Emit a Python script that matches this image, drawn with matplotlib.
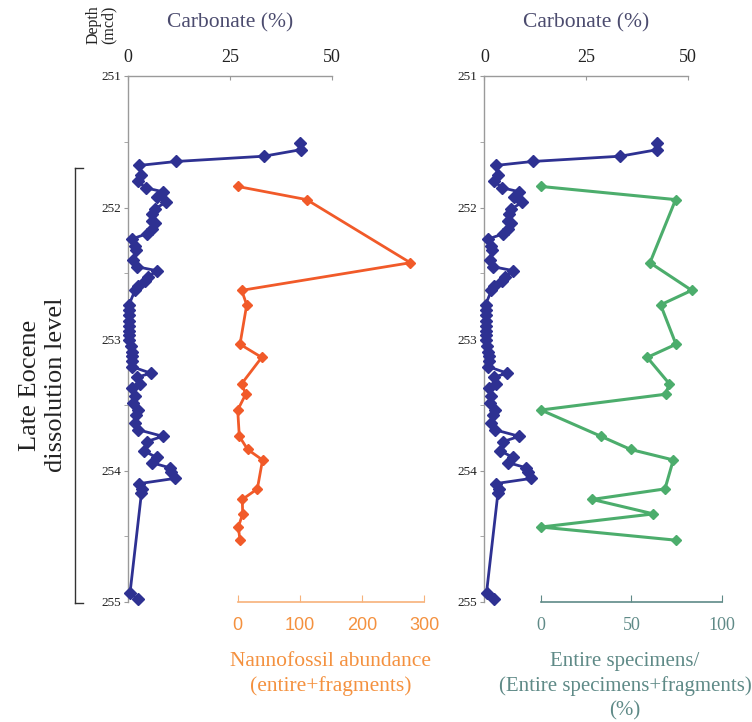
import matplotlib
matplotlib.use("Agg")
import matplotlib.pyplot as plt
from matplotlib.ticker import MultipleLocator

plt.rcParams['font.family'] = ['Liberation Serif', 'DejaVu Serif']

# ---- data ----
carb_depth = [251.51, 251.56, 251.61, 251.65, 251.68, 251.75, 251.80, 251.85, 251.88, 251.92,
              251.96, 252.01, 252.05, 252.10, 252.12, 252.16, 252.20, 252.24, 252.29, 252.32,
              252.40, 252.45, 252.48, 252.53, 252.56, 252.60, 252.63, 252.74, 252.78, 252.82,
              252.86, 252.90, 252.94, 252.97, 253.01, 253.05, 253.10, 253.13, 253.17, 253.21,
              253.26, 253.29, 253.34, 253.37, 253.43, 253.49, 253.54, 253.58, 253.64, 253.69,
              253.74, 253.78, 253.85, 253.90, 253.94, 253.98, 254.01, 254.06, 254.10, 254.14,
              254.17, 254.93, 254.98]
carb_vals = [42.2, 42.4, 33.3, 11.8, 2.8, 3.2, 2.4, 4.3, 8.5, 7.2,
             9.3, 6.6, 6.0, 5.8, 6.6, 5.8, 4.6, 0.9, 1.7, 1.9,
             1.3, 2.1, 7.0, 5.0, 4.2, 2.4, 1.7, 0.25, 0.25, 0.3,
             0.3, 0.25, 0.3, 0.25, 0.3, 0.65, 0.9, 1.05, 1.1, 0.9,
             5.6, 2.3, 2.9, 1.05, 1.7, 1.3, 2.5, 2.0, 1.7, 2.5,
             8.5, 4.6, 3.8, 7.0, 5.8, 10.3, 10.6, 11.5, 2.7, 3.5,
             3.3, 0.5, 2.4]

sample_depth = [251.84, 251.94, 252.42, 252.63, 252.74, 253.04, 253.14, 253.34, 253.42,
                253.54, 253.74, 253.84, 253.92, 254.14, 254.22, 254.33, 254.43, 254.53]
nanno_vals = [0, 111, 278, 6.4, 14.5, 3.7, 38.7, 6.4, 12.9,
              0, 2.6, 16, 40, 31.6, 7.4, 8, 1, 3.7]
entire_pct = [0, 74.5, 60.3, 83.4, 66.2, 74.7, 58.8, 71, 69,
              0, 33.2, 49.6, 73.2, 68.6, 28.4, 62.2, 0, 74.7]

carb_ticks = [0, 25, 50]
depth_ticks = [251, 252, 253, 254, 255]
nanno_ticks = [0, 100, 200, 300]
pct_ticks = [0, 50, 100]

BLUE = '#2e3192'
ORANGE = '#f15a29'
ORANGE_TXT = '#f4913f'
ORANGE_AX = '#f7b27a'
GREEN = '#4cad6c'
GREEN_AX = '#5f8a87'
TITLE_C = '#4b4b6e'
GRAY = '#9a9a9a'

W, H = 752, 722
fig = plt.figure(figsize=(W / 100, H / 100), dpi=100)

y0 = (H - 602) / H
hgt = (602 - 76) / H


def rect(x0, x1):
    return [x0 / W, y0, (x1 - x0) / W, hgt]


def carb_axes(x0, x1):
    ax = fig.add_axes(rect(x0, x1))
    ax.patch.set_alpha(0)
    ax.set_xlim(0, 50)
    ax.set_ylim(255, 251)
    for s in ['right', 'bottom']:
        ax.spines[s].set_visible(False)
    for s in ['top', 'left']:
        ax.spines[s].set_color(GRAY)
        ax.spines[s].set_linewidth(1.0)
    ax.xaxis.tick_top()
    ax.set_xticks(carb_ticks)
    ax.tick_params(axis='x', direction='in', length=3, color=GRAY, labelsize=13, pad=7,
                   labelcolor='#222222')
    ax.set_yticks(depth_ticks)
    ax.yaxis.set_minor_locator(MultipleLocator(0.5))
    ax.tick_params(axis='y', which='both', direction='out', length=3, color=GRAY,
                   labelsize=9.5, pad=2, labelcolor='#222222')
    ax.set_xlabel('Carbonate (%)', fontsize=15.5, color=TITLE_C, labelpad=16)
    ax.xaxis.set_label_position('top')
    ax.plot(carb_vals, carb_depth, color=BLUE, lw=2, marker='D', ms=6,
            mfc=BLUE, mec=BLUE, clip_on=False, zorder=3)
    return ax


axL = carb_axes(128, 332)
axR = carb_axes(484.5, 688.3)

# depth label
fig.text(101 / W, 1 - 25 / H, 'Depth\n(mcd)', rotation=90, ha='center', va='center',
         fontsize=11.5, color='#222222', linespacing=0.95)

NARROW = ['Liberation Sans Narrow', 'Liberation Sans', 'DejaVu Sans']

# nannofossil axes
axN = fig.add_axes(rect(237.7, 424))
axN.patch.set_alpha(0)
axN.set_xlim(0, 300)
axN.set_ylim(255, 251)
for s in ['right', 'top', 'left']:
    axN.spines[s].set_visible(False)
axN.spines['bottom'].set_color(ORANGE_AX)
axN.spines['bottom'].set_linewidth(1.2)
axN.set_yticks([])
axN.set_xticks(nanno_ticks)
axN.tick_params(axis='x', direction='in', length=5, color=ORANGE_AX, labelsize=13,
                labelcolor=ORANGE_TXT, pad=11)
for lab in axN.get_xticklabels():
    lab.set_fontfamily(NARROW)
axN.set_xlabel('Nannofossil abundance\n(entire+fragments)', fontsize=15.5,
               color=ORANGE_TXT, labelpad=13, linespacing=1.3)
axN.plot(nanno_vals, sample_depth, color=ORANGE, lw=2, marker='D', ms=5,
         mfc=ORANGE, mec=ORANGE, clip_on=False, zorder=3)

# entire specimens axes
axG = fig.add_axes(rect(541, 721.7))
axG.patch.set_alpha(0)
axG.set_xlim(0, 100)
axG.set_ylim(255, 251)
for s in ['right', 'top', 'left']:
    axG.spines[s].set_visible(False)
axG.spines['bottom'].set_color(GREEN_AX)
axG.spines['bottom'].set_linewidth(1.2)
axG.set_yticks([])
axG.set_xticks(pct_ticks)
axG.tick_params(axis='x', direction='in', length=5, color=GREEN_AX, labelsize=13,
                labelcolor=GREEN_AX, pad=11)
axG.set_xlabel('Entire specimens/\n(Entire specimens+fragments)\n(%)', fontsize=15,
               color=GREEN_AX, labelpad=13, linespacing=1.33)
axG.xaxis.label.set_x((625 - 541) / (721.7 - 541))
axG.plot(entire_pct, sample_depth, color=GREEN, lw=2.2, marker='D', ms=5,
         mfc=GREEN, mec=GREEN, clip_on=False, zorder=3)

# bracket for dissolution level
bx = 75 / W
fig.add_artist(plt.Line2D([bx, bx], [1 - 168 / H, 1 - 603 / H], color='#333333', lw=1))
fig.add_artist(plt.Line2D([bx, 83 / W], [1 - 168 / H, 1 - 168 / H], color='#333333', lw=1))
fig.add_artist(plt.Line2D([bx, 83 / W], [1 - 603 / H, 1 - 603 / H], color='#333333', lw=1))
fig.text(43 / W, 1 - 385 / H, 'Late Eocene\ndissolution level', rotation=90, ha='center',
         va='center', fontsize=19, color='#222222', linespacing=1.2)

fig.savefig('out.png', dpi=100)
